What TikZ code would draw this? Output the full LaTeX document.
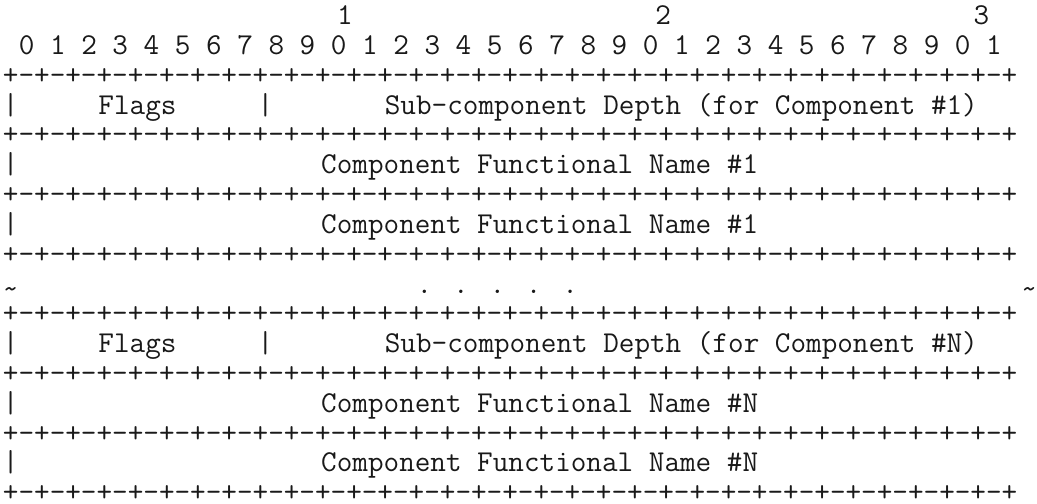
\documentclass[tikz,border=0pt]{standalone}
\usepackage{fontspec}
\tikzset{
  % one unit across is one character cell, one unit down is one text line
  every picture/.append style = {x=8.035pt, y=-15.05pt},
  cell/.style  = {anchor=base west, inner sep=0pt, text=black!90,
                  font=\ttfamily\fontsize{15.3}{15.05}\selectfont},
  % the typewriter tilde sits high, pull it down to mid line
  wave/.style  = {cell, yshift=-3pt},
}
% a full ruler line: 32 bit cells
\newcommand{\sepline}{+-+-+-+-+-+-+-+-+-+-+-+-+-+-+-+-+-+-+-+-+-+-+-+-+-+-+-+-+-+-+-+-+}

\begin{document}
\begin{tikzpicture}
  \fill[white] (-0.162,-0.831) rectangle (64.37,16.05);

  % bit numbering
  \node[cell] (tens1) at (21,0) {1};
  \node[cell] (tens2) at (41,0) {2};
  \node[cell] (tens3) at (61,0) {3};
  \node[cell] (bits) at (1,1)
    {0 1 2 3 4 5 6 7 8 9 0 1 2 3 4 5 6 7 8 9 0 1 2 3 4 5 6 7 8 9 0 1};

  % rulers between the rows
  \foreach \r in {2,4,...,16}
    \node[cell] (rule\r) at (0,\r) {\sepline};

  % first component
  \node[cell] (lbar1)  at (0,3)  {|};
  \node[cell] (flags1) at (6,3)  {Flags};
  \node[cell] (mbar1)  at (16,3) {|};
  \node[cell] (depth1) at (24,3) {Sub-component Depth (for Component \#1)};
  \node[cell] (lbar1a) at (0,5)  {|};
  \node[cell] (name1a) at (20,5) {Component Functional Name \#1};
  \node[cell] (lbar1b) at (0,7)  {|};
  \node[cell] (name1b) at (20,7) {Component Functional Name \#1};

  % skipped components
  \node[wave] (gapl) at (0,9)  {\textasciitilde};
  \node[cell] (dots) at (26,9) {. . . . .};
  \node[wave] (gapr) at (64,9) {\textasciitilde};

  % last component
  \node[cell] (lbarN)  at (0,11)  {|};
  \node[cell] (flagsN) at (6,11)  {Flags};
  \node[cell] (mbarN)  at (16,11) {|};
  \node[cell] (depthN) at (24,11) {Sub-component Depth (for Component \#N)};
  \node[cell] (lbarNa) at (0,13)  {|};
  \node[cell] (nameNa) at (20,13) {Component Functional Name \#N};
  \node[cell] (lbarNb) at (0,15)  {|};
  \node[cell] (nameNb) at (20,15) {Component Functional Name \#N};
\end{tikzpicture}
\end{document}
